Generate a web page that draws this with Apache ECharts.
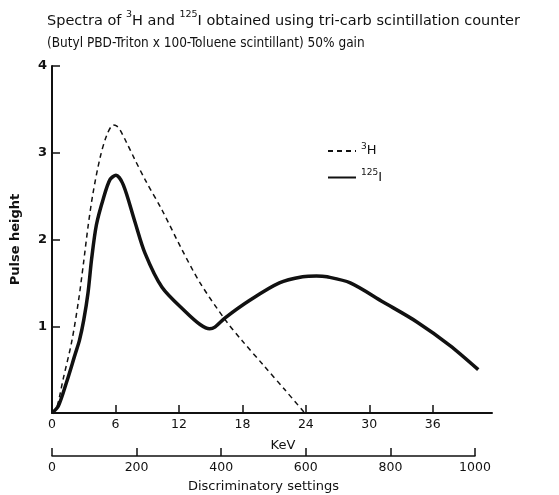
<!DOCTYPE html>
<html>
<head>
<meta charset="utf-8">
<script src="https://cdn.jsdelivr.net/npm/echarts@6/dist/echarts.min.js"></script>
<style>
  html, body { margin: 0; padding: 0; background: #fff; }
  #chart { width: 559px; height: 495px; }
</style>
</head>
<body>
<div id="chart"></div>
<script>
// values (KeV, pulse height)
var tritium = [
  [0, 0], [0.44, 0.06], [1.07, 0.40], [1.86, 0.82], [2.49, 1.28], [2.96, 1.71],
  [3.43, 2.17], [3.9, 2.55], [4.54, 2.94], [5.17, 3.20], [5.8, 3.32], [6.1, 3.31],
  [6.4, 3.27], [7.0, 3.13], [7.8, 2.93], [8.8, 2.69], [10.4, 2.34], [12.3, 1.88],
  [14, 1.5], [16.4, 1.07], [18, 0.83], [20, 0.55], [22, 0.27], [23.9, 0]
];
var iodine = [
  [0, 0], [0.6, 0.08], [1.39, 0.36], [2.17, 0.67], [2.6, 0.84], [3.0, 1.07],
  [3.4, 1.38], [3.75, 1.78], [4.2, 2.17], [4.85, 2.47], [5.48, 2.69], [6.05, 2.74],
  [6.74, 2.63], [7.8, 2.22], [8.8, 1.84], [10.4, 1.45], [12.6, 1.17], [14.0, 1.02],
  [14.9, 0.97], [15.4, 0.99], [16.4, 1.10], [18.7, 1.30], [21.5, 1.50], [23.7, 1.57],
  [25, 1.58], [26, 1.57], [28.2, 1.50], [31.3, 1.28], [34.5, 1.05], [37.6, 0.78],
  [40.3, 0.50]
];
var kevTicks = [0, 6, 12, 18, 24, 30, 36];
var settingTicks = [0, 200, 400, 600, 800, 1000];

var ink = '#111';
var font = 'DejaVu Sans';

var chart = echarts.init(document.getElementById('chart'));

chart.setOption({
  backgroundColor: '#fff',
  animation: false,
  textStyle: { fontFamily: font, color: ink },
  title: {
    left: 42,
    top: 5,
    text: '{t|Spectra of }{s|3}{t|H and }{s|125}{t|I obtained using tri-carb scintillation counter}\n' +
          '{u|(Butyl PBD-Triton x 100-Toluene scintillant) 50% gain}',
    textStyle: {
      fontWeight: 'normal',
      rich: {
        t: { fontSize: 14.5, fontWeight: 'normal', color: ink, fontFamily: font, lineHeight: 22 },
        u: { fontSize: 13.5, fontWeight: 'normal', color: ink, fontFamily: 'DejaVu Sans Condensed, DejaVu Sans', lineHeight: 22 },
        s: { fontSize: 9.5, fontWeight: 'normal', color: ink, fontFamily: font, lineHeight: 12, verticalAlign: 'top' }
      }
    }
  },
  legend: {
    orient: 'vertical',
    left: 322,
    top: 137,
    itemWidth: 28,
    itemHeight: 10,
    itemGap: 11,
    data: ['3H', '125I'],
    itemStyle: { opacity: 0, borderWidth: 0 },
    formatter: function (name) {
      return name === '3H' ? '{s|3}{t|H}' : '{s|125}{t|I}';
    },
    textStyle: {
      rich: {
        t: { fontSize: 13, color: ink, fontFamily: font, lineHeight: 18 },
        s: { fontSize: 9, color: ink, fontFamily: font, lineHeight: 10, verticalAlign: 'top' }
      }
    }
  },
  grid: [
    { left: 52, top: 66, right: 67, bottom: 82 },
    { left: 52, width: 423, bottom: 39, height: 10 }
  ],
  xAxis: [
    {
      type: 'value', gridIndex: 0, min: 0, max: 41.6,
      name: 'KeV', nameLocation: 'middle', nameGap: 26,
      nameTextStyle: { fontSize: 13, color: ink, padding: [0, 0, 0, 22] },
      axisLine: { lineStyle: { color: ink, width: 2 } },
      axisTick: { inside: true, length: 8, customValues: kevTicks, lineStyle: { color: ink, width: 1.5 } },
      axisLabel: { customValues: kevTicks, margin: 5, fontSize: 12.5, color: ink },
      splitLine: { show: false }
    },
    {
      type: 'value', gridIndex: 1, min: 0, max: 1000, interval: 200,
      name: 'Discriminatory settings', nameLocation: 'middle', nameGap: 24,
      nameTextStyle: { fontSize: 13, color: ink },
      axisLine: { lineStyle: { color: ink, width: 1.5 } },
      axisTick: { inside: true, length: 8, customValues: settingTicks, lineStyle: { color: ink, width: 1.5 } },
      axisLabel: {
        customValues: settingTicks, margin: 5, fontSize: 12.5, color: ink,
        formatter: function (v) { return String(v); }
      },
      splitLine: { show: false }
    }
  ],
  yAxis: [
    {
      type: 'value', gridIndex: 0, min: 0, max: 4, interval: 1,
      name: 'Pulse height', nameLocation: 'middle', nameGap: 30,
      nameTextStyle: { fontSize: 13, color: ink, fontWeight: 'bold' },
      axisLine: { lineStyle: { color: ink, width: 2 } },
      axisTick: { inside: true, length: 8, lineStyle: { color: ink, width: 1.5 } },
      axisLabel: {
        margin: 5, fontSize: 13, fontWeight: 'bold', color: ink,
        formatter: function (v) { return v === 0 ? '' : String(v); }
      },
      splitLine: { show: false }
    },
    { type: 'value', gridIndex: 1, show: false, min: 0, max: 1 }
  ],
  series: [
    {
      name: '3H', type: 'line', xAxisIndex: 0, yAxisIndex: 0,
      data: tritium, smooth: 0.3, symbol: 'none',
      lineStyle: { color: ink, width: 1.5, type: [5, 4] },
      itemStyle: { color: ink }
    },
    {
      name: '125I', type: 'line', xAxisIndex: 0, yAxisIndex: 0,
      data: iodine, smooth: 0.3, symbol: 'none',
      lineStyle: { color: ink, width: 3.5 },
      itemStyle: { color: ink }
    }
  ]
});
</script>
</body>
</html>
